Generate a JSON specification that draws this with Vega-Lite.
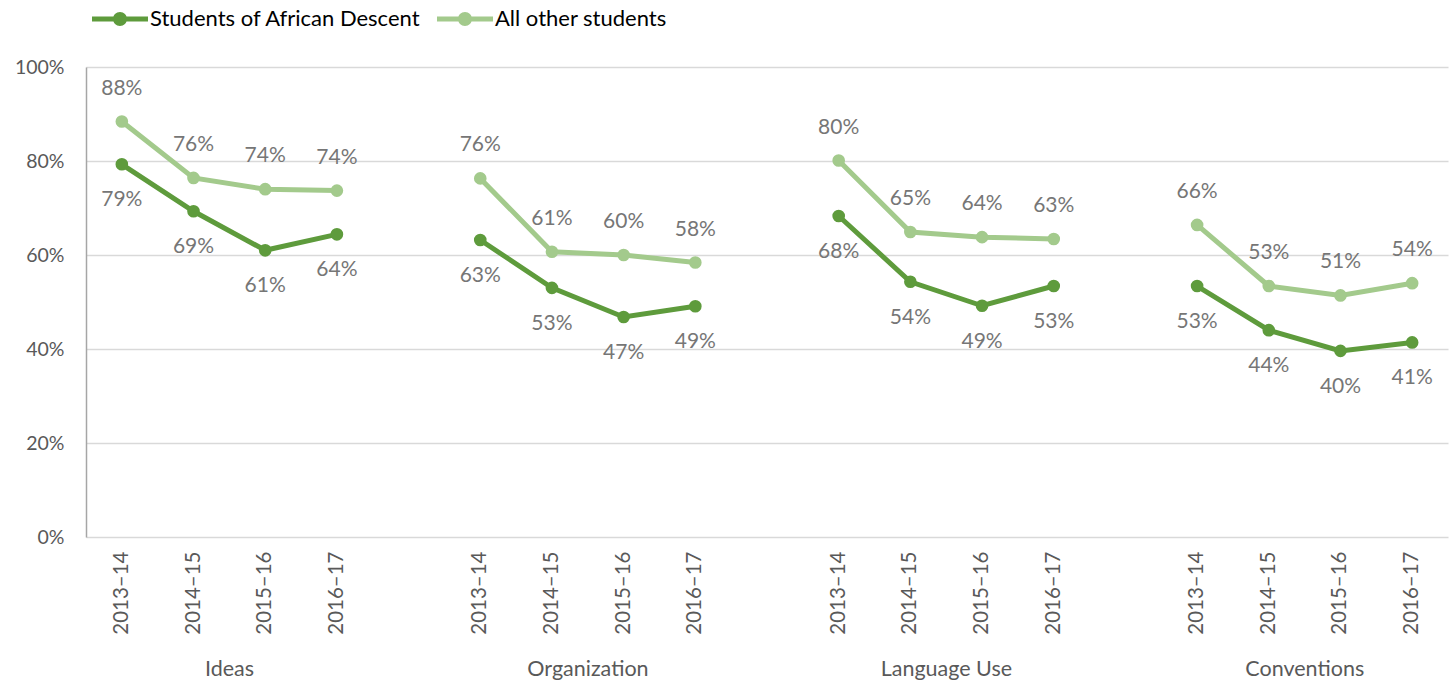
{
  "$schema": "https://vega.github.io/schema/vega-lite/v6.json",
  "width": 1362,
  "height": 470,
  "autosize": {"type": "none"},
  "padding": {"left": 86, "top": 67, "right": 5, "bottom": 146},
  "background": "white",
  "config": {
    "view": {"stroke": null},
    "font": "Lato",
    "axis": {"labelFont": "Lato", "titleFont": "Lato"},
    "legend": {"labelFont": "Lato"}
  },
  "data": {
    "values": [
      {"key": "Ideas|2013–14", "group": "Ideas", "series": "Students of African Descent", "value": 0.793},
      {"key": "Ideas|2014–15", "group": "Ideas", "series": "Students of African Descent", "value": 0.693},
      {"key": "Ideas|2015–16", "group": "Ideas", "series": "Students of African Descent", "value": 0.610},
      {"key": "Ideas|2016–17", "group": "Ideas", "series": "Students of African Descent", "value": 0.644},
      {"key": "Organization|2013–14", "group": "Organization", "series": "Students of African Descent", "value": 0.632},
      {"key": "Organization|2014–15", "group": "Organization", "series": "Students of African Descent", "value": 0.530},
      {"key": "Organization|2015–16", "group": "Organization", "series": "Students of African Descent", "value": 0.468},
      {"key": "Organization|2016–17", "group": "Organization", "series": "Students of African Descent", "value": 0.491},
      {"key": "Language Use|2013–14", "group": "Language Use", "series": "Students of African Descent", "value": 0.683},
      {"key": "Language Use|2014–15", "group": "Language Use", "series": "Students of African Descent", "value": 0.543},
      {"key": "Language Use|2015–16", "group": "Language Use", "series": "Students of African Descent", "value": 0.492},
      {"key": "Language Use|2016–17", "group": "Language Use", "series": "Students of African Descent", "value": 0.534},
      {"key": "Conventions|2013–14", "group": "Conventions", "series": "Students of African Descent", "value": 0.534},
      {"key": "Conventions|2014–15", "group": "Conventions", "series": "Students of African Descent", "value": 0.440},
      {"key": "Conventions|2015–16", "group": "Conventions", "series": "Students of African Descent", "value": 0.396},
      {"key": "Conventions|2016–17", "group": "Conventions", "series": "Students of African Descent", "value": 0.414},
      {"key": "Ideas|2013–14", "group": "Ideas", "series": "All other students", "value": 0.884},
      {"key": "Ideas|2014–15", "group": "Ideas", "series": "All other students", "value": 0.764},
      {"key": "Ideas|2015–16", "group": "Ideas", "series": "All other students", "value": 0.740},
      {"key": "Ideas|2016–17", "group": "Ideas", "series": "All other students", "value": 0.737},
      {"key": "Organization|2013–14", "group": "Organization", "series": "All other students", "value": 0.763},
      {"key": "Organization|2014–15", "group": "Organization", "series": "All other students", "value": 0.607},
      {"key": "Organization|2015–16", "group": "Organization", "series": "All other students", "value": 0.600},
      {"key": "Organization|2016–17", "group": "Organization", "series": "All other students", "value": 0.584},
      {"key": "Language Use|2013–14", "group": "Language Use", "series": "All other students", "value": 0.801},
      {"key": "Language Use|2014–15", "group": "Language Use", "series": "All other students", "value": 0.649},
      {"key": "Language Use|2015–16", "group": "Language Use", "series": "All other students", "value": 0.638},
      {"key": "Language Use|2016–17", "group": "Language Use", "series": "All other students", "value": 0.634},
      {"key": "Conventions|2013–14", "group": "Conventions", "series": "All other students", "value": 0.664},
      {"key": "Conventions|2014–15", "group": "Conventions", "series": "All other students", "value": 0.534},
      {"key": "Conventions|2015–16", "group": "Conventions", "series": "All other students", "value": 0.514},
      {"key": "Conventions|2016–17", "group": "Conventions", "series": "All other students", "value": 0.540}
    ]
  },
  "encoding": {
    "y": {
      "field": "value", "type": "quantitative",
      "scale": {"domain": [0, 1]},
      "axis": {
        "title": null, "values": [0, 0.2, 0.4, 0.6, 0.8, 1], "format": ".0%",
        "ticks": false, "tickSize": 0, "labelPadding": 22, "labelFontSize": 19.5, "labelColor": "#595959",
        "domain": true, "domainColor": "#A6A6A6", "domainWidth": 1.5,
        "grid": true, "gridColor": "#D9D9D9", "gridWidth": 1.5
      }
    }
  },
  "resolve": {"axis": {"x": "independent"}},
  "layer": [
    {
      "mark": {"type": "line", "strokeWidth": 5},
      "encoding": {
        "x": {
          "field": "key", "type": "ordinal",
          "scale": {
            "type": "band", "paddingInner": 0, "paddingOuter": 0,
            "domain": ["Ideas|2013–14", "Ideas|2014–15", "Ideas|2015–16", "Ideas|2016–17", "gap1",
                       "Organization|2013–14", "Organization|2014–15", "Organization|2015–16", "Organization|2016–17", "gap2",
                       "Language Use|2013–14", "Language Use|2014–15", "Language Use|2015–16", "Language Use|2016–17", "gap3",
                       "Conventions|2013–14", "Conventions|2014–15", "Conventions|2015–16", "Conventions|2016–17"]
          },
          "axis": {
            "orient": "bottom", "title": null, "domain": false, "ticks": false, "tickSize": 0, "grid": false,
            "labelAngle": -90, "labelAlign": "right", "labelBaseline": "middle",
            "labelPadding": 14, "labelFontSize": 20.5, "labelColor": "#595959",
            "labelExpr": "indexof(datum.value, '|') >= 0 ? split(datum.value, '|')[1] : ''"
          }
        },
        "color": {
          "field": "series", "type": "nominal",
          "scale": {"domain": ["Students of African Descent", "All other students"], "range": ["#5E9B3C", "#A3CA8C"]},
          "legend": {
            "title": null, "orient": "none", "legendX": 6, "legendY": -76, "direction": "horizontal",
            "symbolType": "M-1,-0.09H1V0.09H-1Z M-0.25,0A0.25,0.25 0 1,1 0.25,0A0.25,0.25 0 1,1 -0.25,0Z",
            "symbolSize": 3136, "symbolStrokeWidth": 0, "labelFontSize": 22, "labelColor": "#000000",
            "labelLimit": 400, "labelOffset": 2, "columnPadding": 16,
            "encode": {"symbols": {"update": {"fill": {"scale": "color", "field": "value"}, "strokeWidth": {"value": 0}, "opacity": {"value": 1}}}}
          }
        },
        "detail": {"field": "group"}
      }
    },
    {
      "mark": {"type": "point", "filled": true, "size": 160, "opacity": 1},
      "encoding": {
        "x": {"field": "key", "type": "ordinal", "axis": null},
        "color": {"field": "series", "type": "nominal", "legend": null}
      }
    },
    {
      "transform": [{"filter": "datum.series == 'Students of African Descent'"}],
      "mark": {"type": "text", "dy": 36, "fontSize": 21, "color": "#767676"},
      "encoding": {
        "x": {
          "field": "key", "type": "ordinal",
          "axis": {
            "orient": "bottom", "title": null, "domain": false, "ticks": false, "tickSize": 0, "grid": false,
            "labelOffset": 36, "labelAngle": 0, "labelAlign": "center", "labelBaseline": "top",
            "labelPadding": 121, "labelFontSize": 21.5, "labelColor": "#595959",
            "labelExpr": "indexof(datum.value, '2014–15') >= 0 ? split(datum.value, '|')[0] : ''"
          }
        },
        "text": {"field": "value", "type": "quantitative", "format": ".0%"}
      }
    },
    {
      "transform": [{"filter": "datum.series == 'All other students'"}],
      "mark": {"type": "text", "dy": -33, "fontSize": 21, "color": "#767676"},
      "encoding": {
        "x": {"field": "key", "type": "ordinal", "axis": null},
        "text": {"field": "value", "type": "quantitative", "format": ".0%"}
      }
    }
  ]
}
